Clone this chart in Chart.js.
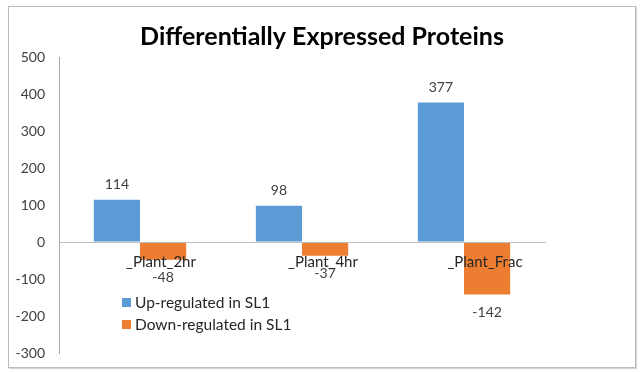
<!DOCTYPE html>
<html>
<head>
<meta charset="utf-8">
<script src="https://cdn.jsdelivr.net/npm/chart.js@4.4.1/dist/chart.umd.min.js"></script>
<style>
  body { margin: 0; background: #fff; }
  #wrap { position: relative; width: 642px; height: 372px; }
  #frame { position: absolute; left: 8px; top: 6px; width: 626px; height: 360px; border: 1px solid #bdbdbd; box-shadow: 1px 1px 1px #d8d8d8; }
  canvas { position: absolute; left: 0; top: 0; }
</style>
</head>
<body>
<div id="wrap">
  <div id="frame"></div>
  <canvas id="grafico" width="642" height="372"></canvas>
</div>
<script>
const categorias = ['_Plant_2hr', '_Plant_4hr', '_Plant_Frac'];
const upRegulated = [114, 98, 377];
const downRegulated = [-48, -37, -142];
const nomesSeries = ['Up-regulated in SL1', 'Down-regulated in SL1'];
const coresSeries = ['#5b9bd5', '#ed7d31'];
const eixoY = { min: -300, max: 500, passo: 100 };
const titulo = 'Differentially Expressed Proteins';

const fonte = 'Lato, "Open Sans", sans-serif';

// title centred on the whole canvas, not on the plot
const tituloCentral = {
  id: 'tituloCentral',
  afterDraw(chart) {
    const ctx = chart.ctx;
    ctx.save();
    ctx.font = 'bold 25px ' + fonte;
    ctx.fillStyle = '#000';
    ctx.textAlign = 'center';
    ctx.textBaseline = 'middle';
    ctx.fillText(titulo, chart.width / 2 + 1, 37);
    ctx.restore();
  }
};

// values above / below each bar
const rotulosDados = {
  id: 'rotulosDados',
  afterDatasetsDraw(chart) {
    const ctx = chart.ctx;
    ctx.save();
    ctx.font = '14px ' + fonte;
    ctx.fillStyle = '#404040';
    ctx.textAlign = 'center';
    ctx.textBaseline = 'middle';
    chart.data.datasets.forEach((ds, i) => {
      chart.getDatasetMeta(i).data.forEach((bar, j) => {
        const v = ds.data[j];
        const y = v >= 0 ? bar.y - 15 : bar.y + 18;
        ctx.fillText(String(v), bar.x, y);
      });
    });
    ctx.restore();
  }
};

// legend sitting inside the plot, bottom-left
const legendaInterna = {
  id: 'legendaInterna',
  afterDraw(chart) {
    const ctx = chart.ctx;
    const a = chart.chartArea;
    ctx.save();
    ctx.font = '15.5px ' + fonte;
    ctx.textBaseline = 'middle';
    chart.data.datasets.forEach((ds, i) => {
      const x = a.left + 63;
      const y = a.top + 246 + i * 22;
      ctx.fillStyle = ds.backgroundColor;
      ctx.fillRect(x, y - 5, 9, 9);
      ctx.fillStyle = '#262626';
      ctx.fillText(ds.label, x + 13, y);
    });
    ctx.restore();
  }
};

const ctx = document.getElementById('grafico');
new Chart(ctx, {
  type: 'bar',
  data: {
    labels: categorias,
    datasets: [
      { label: nomesSeries[0], data: upRegulated, backgroundColor: coresSeries[0] },
      { label: nomesSeries[1], data: downRegulated, backgroundColor: coresSeries[1] }
    ]
  },
  options: {
    responsive: false,
    animation: false,
    devicePixelRatio: 1,
    categoryPercentage: 0.57,
    barPercentage: 1.0,
    layout: { padding: { left: 0, right: 97, top: 57, bottom: 19 } },
    plugins: {
      legend: { display: false },
      tooltip: { enabled: false },
      title: { display: false }
    },
    scales: {
      x: {
        position: { y: 0 },
        grid: { display: false, drawTicks: false },
        border: { display: true, color: '#bfbfbf', width: 1, z: 1 },
        ticks: { z: 1, color: '#262626', font: { family: fonte, size: 15 }, padding: 11, labelOffset: 21, maxRotation: 0 }
      },
      y: {
        min: eixoY.min,
        max: eixoY.max,
        grid: { display: true, drawOnChartArea: false, drawTicks: true, tickLength: 10, color: 'rgba(0,0,0,0)' },
        border: { display: true, color: '#a6a6a6', width: 1 },
        ticks: { stepSize: eixoY.passo, color: '#404040', font: { family: fonte, size: 14 }, padding: 4 },
        afterFit(scale) { scale.width = 59; }
      }
    }
  },
  plugins: [tituloCentral, rotulosDados, legendaInterna]
});
</script>
</body>
</html>
